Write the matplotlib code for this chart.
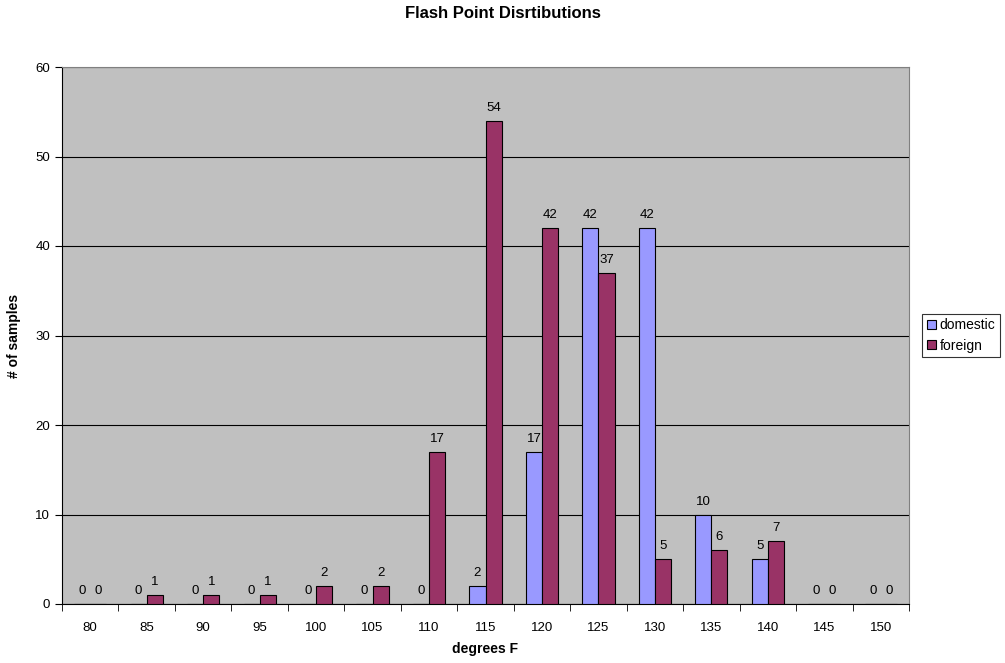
import matplotlib
matplotlib.use("Agg")
import matplotlib.pyplot as plt
import numpy as np

categories = ["80", "85", "90", "95", "100", "105", "110", "115", "120", "125", "130", "135", "140", "145", "150"]
domestic = [0, 0, 0, 0, 0, 0, 0, 2, 17, 42, 42, 10, 5, 0, 0]
foreign = [0, 1, 1, 1, 2, 2, 17, 54, 42, 37, 5, 6, 7, 0, 0]

plt.rcParams['font.family'] = ['Liberation Sans', 'DejaVu Sans']

fig = plt.figure(figsize=(10.05, 6.63), dpi=100)
ax = fig.add_axes([62/1005, 1-604/663, 847/1005, 537/663])
ax.set_facecolor("#C0C0C0")

x = np.arange(len(categories))
w = 0.285
b1 = ax.bar(x - w/2, domestic, w, color="#9999FF", edgecolor="black", linewidth=0.8, label="domestic", zorder=3)
b2 = ax.bar(x + w/2, foreign, w, color="#993366", edgecolor="black", linewidth=0.8, label="foreign", zorder=3)
ax.bar_label(b1, padding=5, fontsize=9.5)
ax.bar_label(b2, padding=5, fontsize=9.5)

ax.set_xlim(-0.5, len(categories) - 0.5)
ax.set_ylim(0, 60)
ax.set_yticks(range(0, 61, 10))
ax.yaxis.grid(True, color="black", linewidth=0.8, zorder=1)
ax.set_xticks(x)
ax.set_xticklabels(categories, fontsize=9.5)
ax.set_xticks(np.arange(-0.5, len(categories), 1), minor=True)
ax.tick_params(axis='x', which='major', length=0, pad=13)
ax.tick_params(axis='x', which='minor', length=5, direction='out')
ax.tick_params(axis='y', labelsize=9.5, length=5, direction='out')
for s in ["top", "right"]:
    ax.spines[s].set_color("#808080")
for s in ["left", "bottom"]:
    ax.spines[s].set_color("black")

ax.set_xlabel("degrees F", fontsize=10, fontweight="bold", labelpad=6)
ax.set_ylabel("# of samples", fontsize=10, fontweight="bold", labelpad=10)
fig.text(0.5, 1 - 14/663, "Flash Point Disrtibutions", ha="center", va="center", fontsize=12, fontweight="bold")

leg = ax.legend(loc="center left", bbox_to_anchor=((922 - 62) / 847, 0.5), fontsize=10,
                frameon=True, fancybox=False, edgecolor="black", handlelength=0.65, handleheight=0.65,
                handletextpad=0.25, borderpad=0.35, labelspacing=0.45, borderaxespad=0)
leg.get_frame().set_linewidth(0.8)

fig.savefig("out.png", dpi=100)
